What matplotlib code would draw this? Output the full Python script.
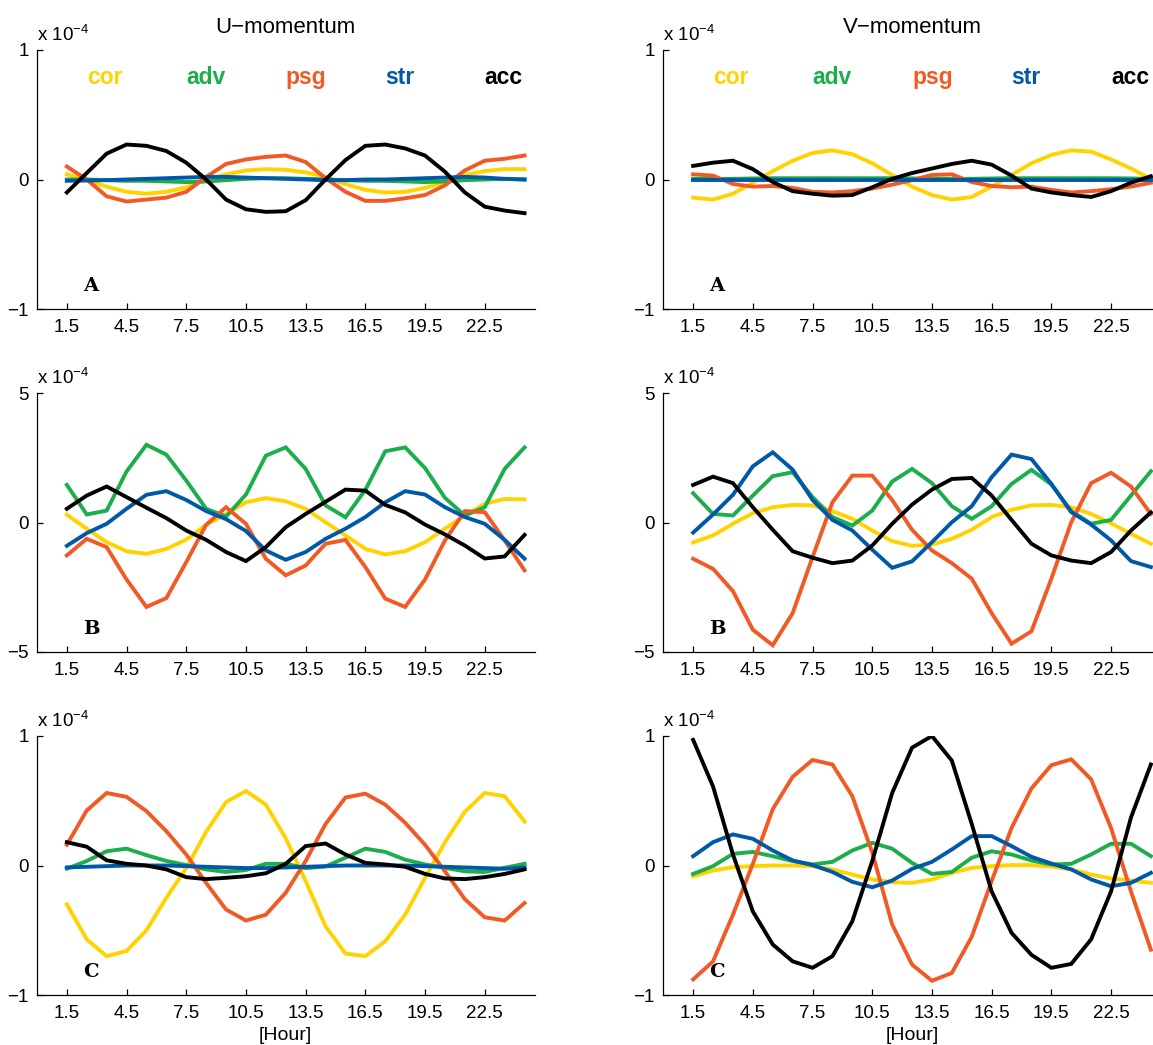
import numpy as np
import matplotlib
matplotlib.use("Agg")
import matplotlib.pyplot as plt

plt.rcParams['font.family'] = ['Liberation Sans', 'DejaVu Sans']
plt.rcParams['mathtext.default'] = 'regular'

# hours (x axis)
hours = np.arange(1.5, 25, 1.0)
xticks = [1.5, 4.5, 7.5, 10.5, 13.5, 16.5, 19.5, 22.5]

terms = ['cor', 'adv', 'psg', 'str', 'acc']
colors = {'cor': '#FFD200', 'adv': '#1BAE4B', 'psg': '#F15A24',
          'str': '#0059A8', 'acc': '#000000'}

# values below are in units of 1e-4

# --- U-momentum, panel A
ua_cor = [0.04, -0.005, -0.055, -0.095, -0.11, -0.095, -0.06, -0.005, 0.04, 0.07, 0.08, 0.075,
          0.055, 0.02, -0.035, -0.08, -0.10, -0.095, -0.065, -0.02, 0.035, 0.065, 0.08, 0.08]
ua_adv = [0.0, 0.0, -0.005, -0.01, -0.01, -0.015, -0.02, -0.015, -0.005, 0.005, 0.01, 0.01,
          0.005, 0.0, -0.005, -0.01, -0.01, -0.015, -0.02, -0.015, -0.005, 0.0, 0.005, 0.0]
ua_psg = [0.10, 0.0, -0.13, -0.17, -0.155, -0.14, -0.095, 0.02, 0.12, 0.155, 0.175, 0.185,
          0.135, 0.01, -0.095, -0.165, -0.165, -0.145, -0.12, -0.045, 0.07, 0.145, 0.16, 0.185]
ua_str = [-0.01, -0.008, -0.005, 0.0, 0.005, 0.01, 0.015, 0.02, 0.02, 0.015, 0.01, 0.005,
          0.0, -0.005, -0.005, 0.0, 0.0, 0.005, 0.01, 0.015, 0.02, 0.015, 0.005, 0.0]
ua_acc = [-0.10, 0.05, 0.20, 0.27, 0.26, 0.22, 0.13, 0.0, -0.155, -0.23, -0.25, -0.245,
          -0.16, 0.0, 0.15, 0.26, 0.27, 0.24, 0.185, 0.06, -0.10, -0.21, -0.24, -0.26]

# --- V-momentum, panel A
va_cor = [-0.14, -0.155, -0.11, -0.025, 0.065, 0.145, 0.205, 0.225, 0.195, 0.125, 0.035, -0.055,
          -0.12, -0.155, -0.135, -0.055, 0.035, 0.125, 0.19, 0.225, 0.215, 0.155, 0.085, 0.005]
va_adv = [0.005, 0.005, 0.005, 0.008, 0.01, 0.01, 0.01, 0.01, 0.01, 0.01, 0.01, 0.008,
          0.005, 0.005, 0.005, 0.008, 0.01, 0.01, 0.01, 0.01, 0.01, 0.01, 0.008, 0.005]
va_psg = [0.04, 0.03, -0.035, -0.055, -0.05, -0.065, -0.095, -0.10, -0.09, -0.07, -0.04, -0.005,
          0.035, 0.04, -0.02, -0.05, -0.06, -0.055, -0.08, -0.10, -0.09, -0.075, -0.055, -0.025]
va_str = [-0.005, -0.005, -0.005, -0.005, -0.005, -0.005, -0.005, -0.005, -0.005, -0.005, -0.005, -0.005,
          -0.005, -0.005, -0.005, -0.005, -0.005, -0.005, -0.005, -0.005, -0.005, -0.005, -0.005, -0.005]
va_acc = [0.105, 0.13, 0.145, 0.08, -0.02, -0.09, -0.11, -0.125, -0.12, -0.06, 0.005, 0.05,
          0.085, 0.12, 0.145, 0.115, 0.03, -0.07, -0.10, -0.12, -0.135, -0.09, -0.025, 0.025]

# --- U-momentum, panel B
ub_cor = [0.3, -0.24, -0.76, -1.11, -1.21, -1.02, -0.66, -0.09, 0.33, 0.78, 0.94, 0.82,
          0.53, 0.01, -0.5, -1.02, -1.23, -1.11, -0.76, -0.24, 0.27, 0.72, 0.91, 0.89]
ub_adv = [1.45, 0.31, 0.46, 1.97, 3.0, 2.62, 1.62, 0.53, 0.23, 1.08, 2.58, 2.9,
          2.07, 0.66, 0.2, 1.26, 2.75, 2.9, 2.1, 0.95, 0.27, 0.59, 2.07, 2.9]
ub_psg = [-1.27, -0.63, -0.95, -2.2, -3.26, -2.92, -1.53, -0.09, 0.59, -0.05, -1.4, -2.04,
          -1.66, -0.82, -0.67, -1.72, -2.94, -3.26, -2.2, -0.69, 0.44, 0.4, -0.69, -1.85]
ub_str = [-0.9, -0.41, -0.05, 0.53, 1.07, 1.21, 0.87, 0.44, 0.13, -0.33, -1.08, -1.44,
          -1.14, -0.63, -0.24, 0.21, 0.78, 1.21, 1.08, 0.59, 0.21, -0.05, -0.67, -1.4]
ub_acc = [0.53, 1.04, 1.39, 0.98, 0.57, 0.17, -0.31, -0.67, -1.14, -1.49, -0.95, -0.18,
          0.33, 0.8, 1.27, 1.23, 0.68, 0.39, -0.08, -0.46, -0.89, -1.39, -1.31, -0.48]

# --- V-momentum, panel B
vb_cor = [-0.77, -0.5, -0.05, 0.36, 0.59, 0.68, 0.66, 0.44, 0.14, -0.31, -0.72, -0.9,
          -0.85, -0.63, -0.28, 0.21, 0.49, 0.66, 0.68, 0.59, 0.33, -0.03, -0.44, -0.82]
vb_adv = [1.13, 0.33, 0.27, 1.04, 1.79, 1.94, 0.98, 0.21, -0.12, 0.46, 1.58, 2.07,
          1.52, 0.63, 0.14, 0.63, 1.49, 2.03, 1.47, 0.44, -0.05, 0.1, 1.04, 1.98]
vb_psg = [-1.4, -1.79, -2.65, -4.14, -4.74, -3.5, -1.34, 0.78, 1.81, 1.81, 0.87, -0.28,
          -1.08, -1.57, -2.17, -3.5, -4.68, -4.2, -2.17, 0.01, 1.52, 1.92, 1.39, 0.33]
vb_str = [-0.39, 0.31, 1.07, 2.17, 2.71, 2.04, 0.87, 0.1, -0.31, -1.05, -1.75, -1.5,
          -0.76, 0.01, 0.63, 1.75, 2.62, 2.45, 1.49, 0.4, -0.08, -0.69, -1.49, -1.72]
vb_acc = [1.45, 1.77, 1.52, 0.59, -0.28, -1.11, -1.36, -1.57, -1.47, -0.89, -0.05, 0.69,
          1.27, 1.68, 1.72, 1.04, 0.1, -0.82, -1.27, -1.47, -1.57, -1.14, -0.31, 0.39]

# --- U-momentum, panel C
uc_cor = [-0.30, -0.57, -0.70, -0.66, -0.50, -0.25, -0.02, 0.26, 0.49, 0.575, 0.47, 0.21,
          -0.12, -0.47, -0.68, -0.70, -0.585, -0.38, -0.095, 0.18, 0.415, 0.56, 0.535, 0.34]
uc_adv = [-0.025, 0.035, 0.11, 0.13, 0.08, 0.035, 0.003, -0.03, -0.05, -0.035, 0.013, 0.013,
          -0.02, -0.008, 0.06, 0.13, 0.105, 0.045, 0.008, -0.018, -0.045, -0.05, -0.018, 0.013]
uc_psg = [0.16, 0.425, 0.56, 0.53, 0.42, 0.265, 0.085, -0.135, -0.34, -0.425, -0.38, -0.21,
          0.035, 0.32, 0.525, 0.555, 0.47, 0.33, 0.16, -0.045, -0.26, -0.40, -0.425, -0.29]
uc_str = [-0.015, -0.01, -0.005, 0.0, 0.0, 0.0, -0.005, -0.01, -0.015, -0.02, -0.02, -0.015,
          -0.01, -0.005, 0.0, 0.0, 0.0, 0.0, -0.005, -0.01, -0.015, -0.02, -0.025, -0.015]
uc_acc = [0.18, 0.145, 0.04, 0.013, 0.0, -0.03, -0.09, -0.105, -0.095, -0.083, -0.06, 0.013,
          0.15, 0.17, 0.085, 0.02, 0.008, -0.01, -0.065, -0.10, -0.105, -0.09, -0.065, -0.03]

# --- V-momentum, panel C
vc_cor = [-0.083, -0.039, -0.013, -0.005, 0.0, 0.0, -0.005, -0.031, -0.07, -0.108, -0.129, -0.134,
          -0.108, -0.057, -0.018, -0.005, 0.003, 0.003, -0.008, -0.031, -0.07, -0.10, -0.116, -0.134]
vc_adv = [-0.065, -0.005, 0.09, 0.105, 0.072, 0.034, 0.008, 0.028, 0.116, 0.175, 0.13, 0.02,
          -0.065, -0.05, 0.06, 0.11, 0.085, 0.039, 0.008, 0.013, 0.085, 0.168, 0.168, 0.072]
vc_psg = [-0.88, -0.74, -0.38, 0.013, 0.435, 0.685, 0.815, 0.78, 0.535, 0.10, -0.455, -0.765,
          -0.89, -0.83, -0.55, -0.12, 0.29, 0.595, 0.775, 0.82, 0.665, 0.29, -0.20, -0.65]
vc_str = [0.072, 0.18, 0.24, 0.206, 0.116, 0.039, 0.003, -0.05, -0.126, -0.168, -0.116, -0.026,
          0.028, 0.124, 0.227, 0.227, 0.15, 0.067, 0.015, -0.03, -0.108, -0.16, -0.134, -0.057]
vc_acc = [0.97, 0.61, 0.085, -0.355, -0.61, -0.74, -0.79, -0.70, -0.43, 0.035, 0.56, 0.91,
          1.0, 0.81, 0.32, -0.20, -0.52, -0.69, -0.79, -0.76, -0.57, -0.20, 0.37, 0.78]

panels = [
    [(ua_cor, ua_adv, ua_psg, ua_str, ua_acc), (va_cor, va_adv, va_psg, va_str, va_acc)],
    [(ub_cor, ub_adv, ub_psg, ub_str, ub_acc), (vb_cor, vb_adv, vb_psg, vb_str, vb_acc)],
    [(uc_cor, uc_adv, uc_psg, uc_str, uc_acc), (vc_cor, vc_adv, vc_psg, vc_str, vc_acc)],
]
ylims = [1, 5, 1]
letters = ['A', 'B', 'C']
titles = ['U\u2212momentum', 'V\u2212momentum']

W, H = 1153, 1045
fig = plt.figure(figsize=(W / 100, H / 100), dpi=100)

col_left = [37, 663.3]
row_top = [50, 393, 736]
ax_w, ax_h = 497.5, 259

for r in range(3):
    for c in range(2):
        ax = fig.add_axes([col_left[c] / W, 1 - (row_top[r] + ax_h) / H, ax_w / W, ax_h / H])
        for name, vals in zip(terms, panels[r][c]):
            ax.plot(hours, vals, color=colors[name], lw=2.8, solid_joinstyle='miter')
        lim = ylims[r]
        ax.set_xlim(0, 25)
        ax.set_ylim(-lim, lim)
        ax.set_xticks(xticks)
        ax.set_xticklabels([str(t) for t in xticks])
        ax.set_yticks([-lim, 0, lim])
        ax.spines['top'].set_visible(False)
        ax.spines['right'].set_visible(False)
        for s in ('left', 'bottom'):
            ax.spines[s].set_linewidth(0.9)
        ax.tick_params(direction='in', length=4, width=0.9, labelsize=13.5)
        ax.tick_params(axis='x', pad=7)
        ax.tick_params(axis='y', pad=6)
        ax.text(0, 1.02, 'x 10$^{\u22124}$',
                transform=ax.transAxes, fontsize=13.5, ha='left', va='bottom')
        ax.text(2.3, -0.82 * lim, letters[r], family=['DejaVu Serif', 'DejaVu Sans'],
                fontweight='bold', fontsize=14, ha='left', va='center')
        if r == 0:
            ax.set_title(titles[c], fontsize=16, pad=12)
            for k, name in enumerate(terms):
                ax.text(2.5 + 5 * k, 0.79, name, color=colors[name], fontsize=16.5,
                        fontweight='bold', ha='left', va='center')
        if r == 2:
            ax.set_xlabel('[Hour]', fontsize=14, labelpad=4)

fig.savefig('out.png', dpi=100)
